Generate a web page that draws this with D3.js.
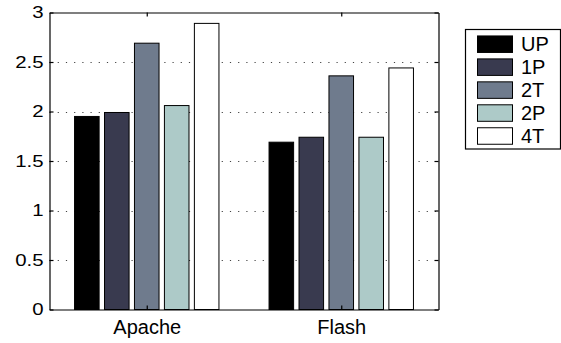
<!DOCTYPE html>
<html>
<head>
<meta charset="utf-8">
<script src="https://cdn.jsdelivr.net/npm/d3@7"></script>
<style>
  body { margin: 0; background: #fff; }
  svg { display: block; font-family: "Liberation Sans", Arial, Helvetica, sans-serif; }
</style>
</head>
<body>
<div id="chart"></div>
<script>
const categories = ["Apache", "Flash"];
const series = ["UP", "1P", "2T", "2P", "4T"];
const values = {
    "UP": [1.95, 1.69],
    "1P": [1.99, 1.74],
    "2T": [2.69, 2.36],
    "2P": [2.06, 1.74],
    "4T": [2.89, 2.44]
};
const colors = ["#000000", "#393a4f", "#6f7b8d", "#adcac8", "#ffffff"];
const yTicks = [0, 0.5, 1, 1.5, 2, 2.5, 3];

const width = 561;
const height = 343;
const plot = { left: 49.5, right: 438.5, top: 12.5, bottom: 309.5 };

const svg = d3.select("#chart")
    .append("svg")
    .attr("width", width)
    .attr("height", height);

// category positions 1, 2 like a matlab bar plot
const x = d3.scaleLinear()
    .domain([0.5, 2.5])
    .range([plot.left, plot.right]);
const y = d3.scaleLinear()
    .domain([0, 3])
    .range([plot.bottom, plot.top]);
const xSub = d3.scaleBand()
    .domain(series)
    .range([-72.2, 72.2])
    .paddingInner(0.18);
const color = d3.scaleOrdinal().domain(series).range(colors);

// dotted grid
const grid = svg.append("g")
    .attr("stroke", "#444")
    .attr("stroke-width", 1)
    .attr("stroke-dasharray", "1.2,7");
grid.selectAll("line.h")
    .data(yTicks.filter(t => t > 0 && t < 3))
    .join("line")
    .attr("x1", plot.left)
    .attr("x2", plot.right)
    .attr("y1", d => Math.round(y(d)) + 0.5)
    .attr("y2", d => Math.round(y(d)) + 0.5);

// bars
const bars = [];
categories.forEach((c, i) => {
    series.forEach(s => bars.push({ cat: i + 1, s: s, v: values[s][i] }));
});
svg.append("g")
    .selectAll("rect")
    .data(bars)
    .join("rect")
    .attr("x", d => x(d.cat) + xSub(d.s))
    .attr("y", d => y(d.v))
    .attr("width", xSub.bandwidth())
    .attr("height", d => y(0) - y(d.v))
    .attr("fill", d => color(d.s))
    .attr("stroke", "#000")
    .attr("stroke-width", 1);

// axes (ticks pointing inwards, box all round)
const yLeft = svg.append("g")
    .attr("transform", `translate(${plot.left},0)`)
    .call(d3.axisLeft(y).tickValues(yTicks).tickSizeInner(-4).tickSizeOuter(0).tickPadding(5)
        .tickFormat(d3.format("")));
yLeft.selectAll(".tick text")
    .attr("font-size", 17)
    .attr("fill", "#000")
    .attr("transform", "scale(1.2,1)");

svg.append("g")
    .attr("transform", `translate(${plot.right},0)`)
    .call(d3.axisRight(y).tickValues(yTicks).tickSizeInner(-4).tickSizeOuter(0).tickFormat(""));

const xBottom = svg.append("g")
    .attr("transform", `translate(0,${plot.bottom})`)
    .call(d3.axisBottom(x).tickValues([1, 2]).tickSizeInner(-4).tickSizeOuter(0).tickPadding(10)
        .tickFormat(d => categories[d - 1]));
xBottom.selectAll(".tick text")
    .attr("font-size", 20)
    .attr("fill", "#000");

svg.append("g")
    .attr("transform", `translate(0,${plot.top})`)
    .call(d3.axisTop(x).tickValues([1, 2]).tickSizeInner(-4).tickSizeOuter(0).tickFormat(""));

svg.selectAll(".domain, .tick line")
    .attr("stroke", "#000")
    .attr("stroke-width", 1.2);

// legend
const legend = svg.append("g");
legend.append("rect")
    .attr("x", 465.5)
    .attr("y", 29.5)
    .attr("width", 95)
    .attr("height", 119.5)
    .attr("fill", "#fff")
    .attr("stroke", "#000")
    .attr("stroke-width", 1.2);
const ly = d3.scalePoint().domain(series).range([44.2, 136]);
const rows = legend.selectAll("g.row")
    .data(series)
    .join("g")
    .attr("transform", d => `translate(0,${ly(d)})`);
rows.append("rect")
    .attr("x", 477.5)
    .attr("y", -8.25)
    .attr("width", 35)
    .attr("height", 16.5)
    .attr("fill", d => color(d))
    .attr("stroke", "#000")
    .attr("stroke-width", 1);
rows.append("text")
    .attr("x", 521)
    .attr("dy", "0.36em")
    .attr("font-size", 20)
    .text(d => d);
</script>
</body>
</html>
